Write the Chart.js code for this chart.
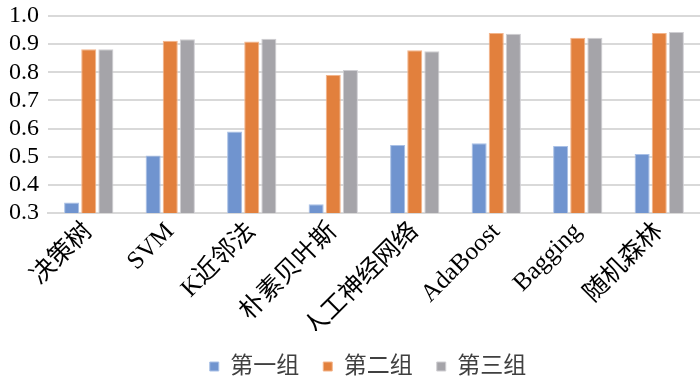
<!DOCTYPE html>
<html><head><meta charset="utf-8">
<script src="https://cdn.jsdelivr.net/npm/chart.js@4/dist/chart.umd.min.js"></script>
<style>html,body{margin:0;padding:0;background:#fff}#wrap{width:700px;height:382px}</style>
</head><body><div id="wrap"><canvas id="c"></canvas></div>
<script>
const categories = ["决策树","SVM","K近邻法","朴素贝叶斯","人工神经网络","AdaBoost","Bagging","随机森林"];
const seriesNames = ["第一组","第二组","第三组"];
const group1 = [0.337,0.504,0.590,0.331,0.542,0.548,0.538,0.510];
const group2 = [0.882,0.912,0.909,0.790,0.878,0.940,0.923,0.940];
const group3 = [0.882,0.917,0.919,0.808,0.875,0.937,0.923,0.943];
const yTicks = [0.3,0.4,0.5,0.6,0.7,0.8,0.9,1.0];

const FONT = '"Liberation Serif","Noto Sans CJK SC",serif';
const colors = ["#7094cf","#e2803d","#a5a4a9"];
const borders = ["#a9c0e6","#f3b48a","#cfced2"];
const values = [group1,group2,group3];

const shiftLegend = {
  id: 'shiftLegend',
  afterLayout(chart) { const l = chart.legend; if (l) { l.left += 18; l.right += 18; } }
};

new Chart(document.getElementById('c'), {
  type: 'bar',
  data: {
    labels: categories,
    datasets: seriesNames.map((n,i)=>({
      label: n, data: values[i], backgroundColor: colors[i],
      borderColor: borders[i], borderWidth: 1,
      categoryPercentage: 0.63, barPercentage: 0.88
    }))
  },
  plugins: [shiftLegend],
  options: {
    responsive: true, maintainAspectRatio: false, animation: false,
    layout: { padding: { left: 0, right: 0, top: 0, bottom: -6 } },
    plugins: {
      tooltip: { enabled: false },
      legend: {
        position: 'bottom',
        labels: { font: { family: FONT, size: 23 }, color: '#404040', boxWidth: 9, boxHeight: 9, padding: 24, useBorderRadius:false }
      }
    },
    scales: {
      x: {
        grid: { display: false, drawTicks: false },
        border: { display: true, color: '#d9d9d9', width: 2 },
        ticks: { font: { family: FONT, size: 25 }, color: '#000', maxRotation: 45, minRotation: 45, padding: 4, autoSkip: false },
        afterFit: (s) => { s.height = 118; }
      },
      y: {
        min: 0.3, max: 1.0,
        afterBuildTicks: (ax) => { ax.ticks = yTicks.map(v => ({ value: v })); },
        afterFit: (s) => { s.paddingTop = 16; },
        grid: { color: '#d9d9d9', lineWidth: 2, drawTicks: false },
        border: { display: false },
        ticks: { font: { family: FONT, size: 24 }, color: '#000', padding: 9, autoSkip: false, callback: v => Number(v).toFixed(1) }
      }
    }
  }
});
</script></body></html>
